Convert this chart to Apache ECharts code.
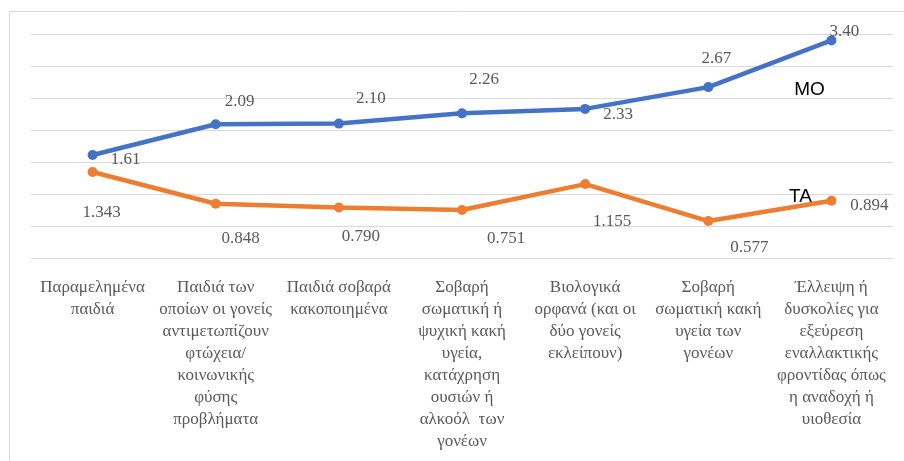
<!DOCTYPE html>
<html lang="el">
<head>
    <meta charset="UTF-8">
    <title>MO / TA</title>
    <script src="https://cdn.jsdelivr.net/npm/echarts@6/dist/echarts.min.js"></script>
    <style>
        html, body {
            margin: 0;
            height: 100%;
            background: #fff;
        }
    </style>
</head>
<body>
<div id="main" style="width: 904px;height: 461px;"></div>
</body>
</html>
<script>
    // κατηγορίες (άξονας x)
    var categories = [
        'Παραμελημένα\nπαιδιά',
        'Παιδιά των\nοποίων οι γονείς\nαντιμετωπίζουν\nφτώχεια/\nκοινωνικής\nφύσης\nπροβλήματα',
        'Παιδιά σοβαρά\nκακοποιημένα',
        'Σοβαρή\nσωματική ή\nψυχική κακή\nυγεία,\nκατάχρηση\nουσιών ή\nαλκοόλ  των\nγονέων',
        'Βιολογικά\nορφανά (και οι\nδύο γονείς\nεκλείπουν)',
        'Σοβαρή\nσωματική κακή\nυγεία των\nγονέων',
        'Έλλειψη ή\nδυσκολίες για\nεξεύρεση\nεναλλακτικής\nφροντίδας όπως\nη αναδοχή ή\nυιοθεσία'
    ];
    var moValues = [1.61, 2.09, 2.10, 2.26, 2.33, 2.67, 3.40];
    var taValues = [1.343, 0.848, 0.790, 0.751, 1.155, 0.577, 0.894];

    // θέσεις ετικετών (μετατόπιση από το σημείο)
    var moOffsets = [[33, 5], [24, -23], [32, -25], [22, -34], [33, 6], [8, -29], [13, -9]];
    var taOffsets = [[9, 40], [25, 35], [22, 29], [44, 29], [27, 37], [41, 26], [38, 5]];

    function withLabels(values, offsets, digits) {
        return values.map(function (v, i) {
            return {
                value: v,
                label: {offset: offsets[i], formatter: v.toFixed(digits)}
            };
        });
    }

    var myChart = echarts.init(document.getElementById('main'));

    var serif = '"Liberation Serif", "DejaVu Serif", serif';

    var valueLabel = {
        show: true,
        position: 'inside',
        fontFamily: serif,
        fontSize: 17,
        color: '#595959'
    };

    function nameMark(name, idx, values, offset) {
        return {
            symbol: 'circle',
            symbolSize: 0,
            silent: true,
            label: {
                show: true,
                formatter: name,
                position: 'inside',
                offset: offset,
                fontFamily: '"Liberation Sans", sans-serif',
                fontSize: 19,
                color: '#000'
            },
            data: [{coord: [idx, values[idx]]}]
        };
    }

    var option = {
        backgroundColor: '#fff',
        animation: false,
        graphic: [{
            type: 'rect',
            shape: {x: 9.5, y: 11.5, width: 1000, height: 1000},
            style: {fill: 'none', stroke: '#d9d9d9', lineWidth: 1},
            silent: true
        }],
        grid: {
            left: 31,
            right: 11,
            top: 34,
            bottom: 203
        },
        xAxis: {
            type: 'category',
            data: categories,
            boundaryGap: true,
            axisLine: {lineStyle: {color: '#d9d9d9'}},
            axisTick: {show: false},
            axisLabel: {
                interval: 0,
                margin: 19,
                fontFamily: serif,
                fontSize: 17,
                lineHeight: 22,
                color: '#595959',
                align: 'center'
            }
        },
        yAxis: {
            type: 'value',
            min: 0,
            max: 3.5,
            interval: 0.5,
            axisLine: {show: false},
            axisTick: {show: false},
            axisLabel: {show: false},
            splitLine: {lineStyle: {color: '#d9d9d9'}}
        },
        series: [{
            name: 'MO',
            type: 'line',
            symbol: 'circle',
            symbolSize: 10,
            color: '#4472c4',
            lineStyle: {width: 4.5},
            label: valueLabel,
            data: withLabels(moValues, moOffsets, 2),
            markPoint: nameMark('MO', 6, moValues, [-22, 49]),
            z: 3
        }, {
            name: 'TA',
            type: 'line',
            symbol: 'circle',
            symbolSize: 10,
            color: '#ed7d31',
            lineStyle: {width: 4.5},
            label: valueLabel,
            data: withLabels(taValues, taOffsets, 3),
            markPoint: nameMark('TA', 6, taValues, [-31, -4]),
            z: 2
        }]
    };

    myChart.setOption(option);
</script>
